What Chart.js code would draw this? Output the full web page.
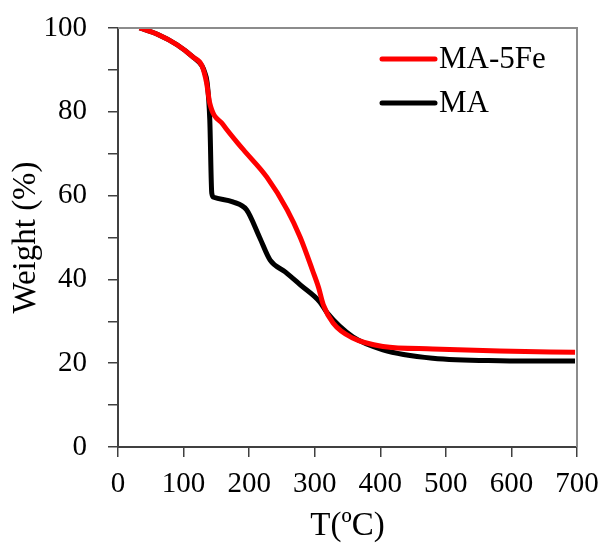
<!DOCTYPE html>
<html>
<head>
<meta charset="utf-8">
<script src="https://cdn.jsdelivr.net/npm/chart.js@4/dist/chart.umd.min.js"></script>
<style>
  html, body { margin: 0; padding: 0; background: #fff; }
  #wrap { width: 604px; height: 543px; position: relative; }
</style>
</head>
<body>
<div id="wrap"><canvas id="tga"></canvas></div>
<script>
// --- data ---
const tempMA5Fe = [33, 60, 90, 115, 128, 135, 140, 160, 191, 227, 258, 278, 297, 306, 313, 328, 358, 404, 480, 582, 697];
const weightMA5Fe = [100, 98.5, 96, 93, 91, 87, 82, 77, 71, 64.4, 56.6, 50, 42, 38, 34, 29.6, 26, 24, 23.4, 22.9, 22.6];

const tempMA = [33, 60, 90, 115, 128, 132, 136, 140, 143, 146, 175, 196, 216, 232, 255, 278, 308, 319, 358, 404, 480, 582, 697];
const weightMA = [100, 98.5, 96, 93, 91, 89.5, 86.9, 78, 60.6, 59.6, 58.5, 56.6, 50, 44.6, 41.8, 38.7, 34.6, 32, 26.3, 23.2, 21.2, 20.6, 20.5];

const seriesLabels = ['MA-5Fe', 'MA'];
const xTicks = [0, 100, 200, 300, 400, 500, 600, 700];

const serif = "'Liberation Serif', 'Times New Roman', serif";

const toPoints = (xs, ys) => xs.map((x, i) => ({ x, y: ys[i] }));

// --- top/right frame and the legend inside the plot ---
const framePlugin = {
  id: 'frame',
  afterDraw(chart) {
    const { ctx, chartArea: a } = chart;
    ctx.save();
    ctx.strokeStyle = '#8c8c8c';
    ctx.lineWidth = 2;
    ctx.beginPath();
    ctx.moveTo(a.left, a.top);
    ctx.lineTo(a.right, a.top);
    ctx.lineTo(a.right, a.bottom);
    ctx.stroke();

    const x0 = 382, x1 = 435;
    const rows = [59, 103];
    ctx.font = '31px ' + serif;
    ctx.textBaseline = 'middle';
    chart.data.datasets.forEach((ds, i) => {
      ctx.strokeStyle = ds.borderColor;
      ctx.lineWidth = 5;
      ctx.lineCap = 'round';
      ctx.beginPath();
      ctx.moveTo(x0, rows[i]);
      ctx.lineTo(x1, rows[i]);
      ctx.stroke();
      ctx.fillStyle = '#000';
      ctx.fillText(ds.label, x1 + 4, rows[i] + 1);
    });
    ctx.restore();
  }
};

new Chart(document.getElementById('tga'), {
  type: 'line',
  data: {
    datasets: [
      {
        label: seriesLabels[0],
        data: toPoints(tempMA5Fe, weightMA5Fe),
        borderColor: '#ff0000',
        borderWidth: 5,
        pointRadius: 0,
        cubicInterpolationMode: 'monotone'
      },
      {
        label: seriesLabels[1],
        data: toPoints(tempMA, weightMA),
        borderColor: '#000000',
        borderWidth: 5,
        pointRadius: 0,
        cubicInterpolationMode: 'monotone'
      }
    ]
  },
  options: {
    responsive: true,
    maintainAspectRatio: false,
    animation: false,
    layout: { padding: { top: 28, right: 27, left: 0, bottom: 0 } },
    plugins: {
      legend: { display: false },
      tooltip: { enabled: false }
    },
    scales: {
      x: {
        type: 'linear',
        min: 0,
        max: 700,
        afterBuildTicks: (axis) => { axis.ticks = xTicks.map(v => ({ value: v })); },
        afterFit: (axis) => {
          axis.height = 96;
          axis.paddingLeft = 0;
          axis.paddingRight = 0;
        },
        grid: { drawOnChartArea: false, tickLength: 10, color: '#404040', lineWidth: 1.5 },
        border: { color: '#404040', width: 2 },
        ticks: { color: '#000', font: { family: serif, size: 29 }, padding: 10, maxRotation: 0 },
        title: { display: true, text: 'T(ºC)', color: '#000', font: { family: serif, size: 33, lineHeight: 1 }, padding: 0 }
      },
      y: {
        min: 0,
        max: 100,
        afterFit: (axis) => {
          axis.width = 118;
          axis.paddingTop = 0;
          axis.paddingBottom = 0;
        },
        ticks: {
          stepSize: 10,
          color: '#000',
          font: { family: serif, size: 29 },
          padding: 21,
          callback: (v) => (v % 20 === 0 ? v : '')
        },
        grid: { drawOnChartArea: false, tickLength: 10, color: '#404040', lineWidth: 1.5 },
        border: { color: '#404040', width: 2 },
        title: { display: true, text: 'Weight (%)', color: '#000', font: { family: serif, size: 33, lineHeight: 1 }, padding: 10 }
      }
    }
  },
  plugins: [framePlugin]
});
</script>
</body>
</html>
